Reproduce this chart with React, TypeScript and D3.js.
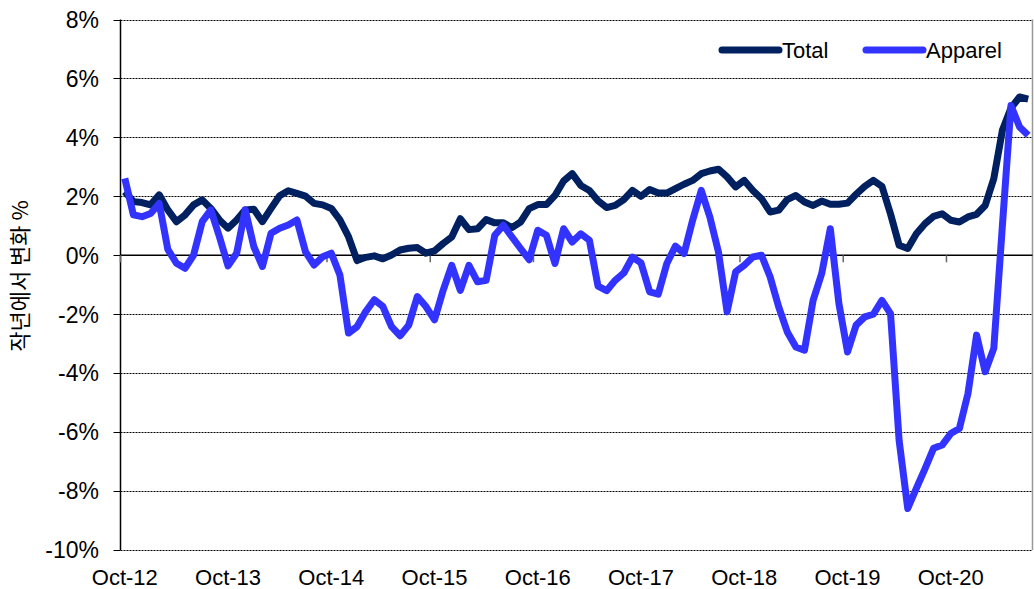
import { useEffect, useRef } from "react";
import * as d3 from "d3";

// year-over-year % change, monthly from Oct-12
const total = [
  2.16, 1.82, 1.79, 1.71, 2.05, 1.54, 1.14, 1.37, 1.71, 1.88, 1.59, 1.2,
  0.92, 1.2, 1.54, 1.56, 1.14, 1.59, 2.02, 2.19, 2.1, 2.01, 1.76, 1.71,
  1.59, 1.2, 0.63, -0.18, -0.07, -0.02, -0.12, 0.01, 0.18, 0.24, 0.26, 0.07,
  0.15, 0.4, 0.62, 1.24, 0.87, 0.9, 1.21, 1.1, 1.1, 0.94, 1.13, 1.58,
  1.72, 1.72, 2.03, 2.52, 2.77, 2.37, 2.2, 1.85, 1.62, 1.69, 1.89, 2.2,
  2.0, 2.23, 2.11, 2.11, 2.26, 2.41, 2.54, 2.77, 2.86, 2.92, 2.66, 2.32,
  2.54, 2.2, 1.92, 1.47, 1.53, 1.89, 2.03, 1.81, 1.69, 1.84, 1.73, 1.73,
  1.77, 2.07, 2.34, 2.54, 2.34, 1.4, 0.34, 0.23, 0.73, 1.07, 1.32, 1.41,
  1.19, 1.13, 1.3, 1.39, 1.69, 2.6, 4.24, 5.0, 5.37, 5.3,
];

const apparel = [
  2.61, 1.37, 1.31, 1.42, 1.76, 0.2, -0.27, -0.44, 0.01, 1.14, 1.54, 0.63,
  -0.36, 0.07, 1.54, 0.29, -0.38, 0.75, 0.92, 1.03, 1.2, 0.12, -0.33, -0.05,
  0.07, -0.67, -2.64, -2.42, -1.91, -1.51, -1.74, -2.42, -2.73, -2.37, -1.4, -1.74,
  -2.19, -1.19, -0.34, -1.19, -0.34, -0.9, -0.85, 0.68, 1.02, 0.62, 0.23, -0.15,
  0.85, 0.68, -0.28, 0.9, 0.45, 0.73, 0.51, -1.05, -1.2, -0.85, -0.6, -0.06,
  -0.26, -1.24, -1.32, -0.28, 0.31, 0.06, 1.19, 2.2, 1.3, 0.11, -1.92, -0.56,
  -0.34, -0.06, 0.0, -0.73, -1.75, -2.6, -3.11, -3.22, -1.53, -0.62, 0.9, -1.64,
  -3.28, -2.37, -2.09, -2.0, -1.53, -1.98, -6.29, -8.59, -7.91, -7.25, -6.55, -6.44,
  -6.05, -5.88, -4.69, -2.71, -3.95, -3.16, 1.0, 5.08, 4.35, 4.07,
];

const xLabels = ["Oct-12", "Oct-13", "Oct-14", "Oct-15", "Oct-16", "Oct-17", "Oct-18", "Oct-19", "Oct-20"];
const yTicks = [8, 6, 4, 2, 0, -2, -4, -6, -8, -10];
const series = [
  { name: "Total", values: total, color: "#002060" },
  { name: "Apparel", values: apparel, color: "#3333FF" },
];

export default function App() {
  const ref = useRef<HTMLDivElement>(null);

  useEffect(() => {
    d3.select(ref.current).select("svg").remove();

    const width = 1034;
    const height = 589;
    const left = 120.5;
    const right = 1032.5;
    const top = 19.5;
    const bottom = 550;
    const font = "'Liberation Sans', Arial, sans-serif";

    const x = d3.scaleLinear().domain([0, total.length]).range([left, right]);
    const y = d3.scaleLinear().domain([-10, 8]).range([bottom, top]);

    const svg = d3
      .select(ref.current)
      .append("svg")
      .attr("width", width)
      .attr("height", height)
      .style("position", "absolute")
      .style("left", 0)
      .style("top", 0);

    // grid
    svg
      .selectAll("line.grid")
      .data(yTicks.filter((d) => d !== 0))
      .enter()
      .append("line")
      .attr("x1", left)
      .attr("x2", right)
      .attr("y1", (d) => Math.round(y(d)) + 0.5)
      .attr("y2", (d) => Math.round(y(d)) + 0.5)
      .attr("stroke", "#000")
      .attr("stroke-width", 1)
      .attr("stroke-dasharray", "2 1");

    // right border
    svg
      .append("line")
      .attr("x1", right)
      .attr("x2", right)
      .attr("y1", top)
      .attr("y2", bottom)
      .attr("stroke", "#999")
      .attr("stroke-width", 1.5);

    // left axis + ticks
    svg
      .append("line")
      .attr("x1", left)
      .attr("x2", left)
      .attr("y1", top)
      .attr("y2", bottom)
      .attr("stroke", "#000")
      .attr("stroke-width", 1.5);

    svg
      .selectAll("line.ytick")
      .data(yTicks)
      .enter()
      .append("line")
      .attr("x1", left - 7)
      .attr("x2", left)
      .attr("y1", (d) => Math.round(y(d)) + 0.5)
      .attr("y2", (d) => Math.round(y(d)) + 0.5)
      .attr("stroke", "#000");

    svg
      .selectAll("text.ylab")
      .data(yTicks)
      .enter()
      .append("text")
      .attr("x", 99)
      .attr("y", (d) => y(d))
      .attr("dy", "0.36em")
      .attr("text-anchor", "end")
      .attr("font-family", font)
      .attr("font-size", "23px")
      .text((d) => `${d}%`);

    // zero line with month ticks
    svg
      .append("line")
      .attr("x1", left)
      .attr("x2", right)
      .attr("y1", y(0))
      .attr("y2", y(0))
      .attr("stroke", "#000")
      .attr("stroke-width", 1.5);

    svg
      .selectAll("line.xtick")
      .data(d3.range(0, total.length, 12))
      .enter()
      .append("line")
      .attr("x1", (d) => x(d))
      .attr("x2", (d) => x(d))
      .attr("y1", y(0))
      .attr("y2", y(0) + 7)
      .attr("stroke", "#666")
      .attr("stroke-width", 1.5);

    svg
      .selectAll("text.xlab")
      .data(xLabels)
      .enter()
      .append("text")
      .attr("x", (d, i) => x(i * 12 + 0.5))
      .attr("y", 585)
      .attr("text-anchor", "middle")
      .attr("font-family", font)
      .attr("font-size", "22px")
      .text((d) => d);

    // y axis title
    svg
      .append("text")
      .attr("transform", "translate(28,276) rotate(-90)")
      .attr("text-anchor", "middle")
      .attr("font-family", "'Noto Sans CJK KR', sans-serif")
      .attr("font-size", "22px")
      .text("작년에서 변화 %");

    const line = d3
      .line<number>()
      .x((d, i) => x(i + 0.5))
      .y((d) => y(d));

    svg
      .selectAll("path.series")
      .data(series)
      .enter()
      .append("path")
      .attr("d", (d) => line(d.values))
      .attr("fill", "none")
      .attr("stroke", (d) => d.color)
      .attr("stroke-width", 7)
      .attr("stroke-linejoin", "round");

    // legend
    const legend = svg
      .selectAll("g.legend")
      .data(series)
      .enter()
      .append("g")
      .attr("transform", (d, i) => `translate(${[722, 866][i]},50)`);

    legend
      .append("line")
      .attr("x1", 0)
      .attr("x2", 57)
      .attr("stroke", (d) => d.color)
      .attr("stroke-width", 7)
      .attr("stroke-linecap", "round");

    legend
      .append("text")
      .attr("x", 60)
      .attr("dy", "0.36em")
      .attr("font-family", font)
      .attr("font-size", "22px")
      .text((d) => d.name);
  }, []);

  return <div ref={ref}></div>;
}
